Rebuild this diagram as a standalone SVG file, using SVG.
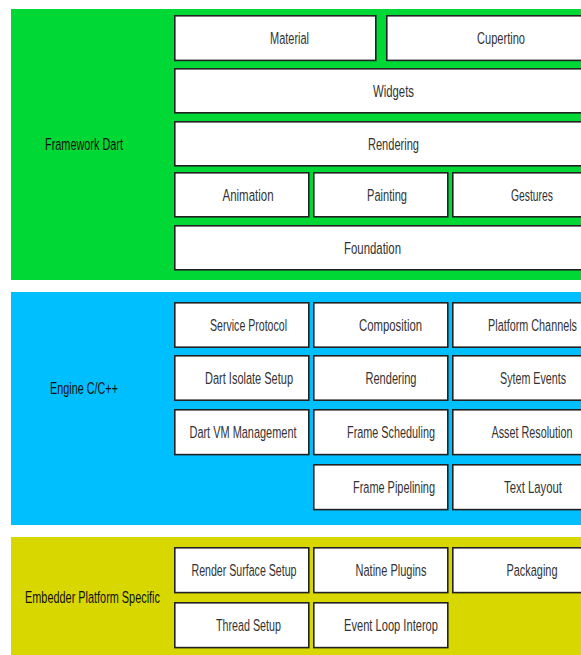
<svg xmlns="http://www.w3.org/2000/svg" width="581" height="655" viewBox="0 0 581 655">
  <style>
    .band-fw { fill: #00d836; }
    .band-en { fill: #00bfff; }
    .band-em { fill: #d8d800; }
    .box { fill: #ffffff; stroke: #222222; stroke-width: 1.6; }
    .t { font-family: "Liberation Sans", Arial, sans-serif; font-size: 17px; fill: #333333; text-anchor: middle; }
    .lbl { font-family: "Liberation Sans", Arial, sans-serif; font-size: 17px; fill: #111111; text-anchor: middle; }
  </style>
  <rect width="581" height="655" fill="#ffffff"/>

  <!-- Framework layer; labels use a condensed face (x scaled by 0.62) -->
  <g id="framework">
    <rect class="band-fw" x="11" y="9" width="580" height="271"/>
    <text class="lbl" transform="translate(84 150) scale(0.62 1)" textLength="125.8" lengthAdjust="spacingAndGlyphs">Framework Dart</text>
    <g id="material"><rect class="box" x="174.8" y="15.8" width="201" height="44.6"/><text class="t" transform="translate(289.5 44) scale(0.62 1)" textLength="62.9" lengthAdjust="spacingAndGlyphs">Material</text></g>
    <g id="cupertino"><rect class="box" x="386.8" y="15.8" width="228" height="44.6"/><text class="t" transform="translate(501 44) scale(0.62 1)" textLength="77.4" lengthAdjust="spacingAndGlyphs">Cupertino</text></g>
    <g id="widgets"><rect class="box" x="174.8" y="68.8" width="440" height="44"/><text class="t" transform="translate(393.5 96.8) scale(0.62 1)" textLength="66.1" lengthAdjust="spacingAndGlyphs">Widgets</text></g>
    <g id="fw-rendering"><rect class="box" x="174.8" y="121.8" width="440" height="44"/><text class="t" transform="translate(393.5 149.8) scale(0.62 1)" textLength="82.3" lengthAdjust="spacingAndGlyphs">Rendering</text></g>
    <g id="animation"><rect class="box" x="174.8" y="172.8" width="134" height="44"/><text class="t" transform="translate(248 200.8) scale(0.62 1)" textLength="82.3" lengthAdjust="spacingAndGlyphs">Animation</text></g>
    <g id="painting"><rect class="box" x="313.8" y="172.8" width="134" height="44"/><text class="t" transform="translate(387 200.8) scale(0.62 1)" textLength="64.5" lengthAdjust="spacingAndGlyphs">Painting</text></g>
    <g id="gestures"><rect class="box" x="452.8" y="172.8" width="162" height="44"/><text class="t" transform="translate(532 200.8) scale(0.62 1)" textLength="67.7" lengthAdjust="spacingAndGlyphs">Gestures</text></g>
    <g id="foundation"><rect class="box" x="174.8" y="225.8" width="440" height="44"/><text class="t" transform="translate(372.5 253.8) scale(0.62 1)" textLength="91.9" lengthAdjust="spacingAndGlyphs">Foundation</text></g>
  </g>

  <!-- Engine layer -->
  <g id="engine">
    <rect class="band-en" x="11" y="292" width="580" height="233"/>
    <text class="lbl" transform="translate(84 394) scale(0.62 1)" textLength="109.7" lengthAdjust="spacingAndGlyphs">Engine C/C++</text>
    <g id="service-protocol"><rect class="box" x="174.8" y="302.8" width="134" height="44.4"/><text class="t" transform="translate(248.5 330.8) scale(0.62 1)" textLength="124.2" lengthAdjust="spacingAndGlyphs">Service Protocol</text></g>
    <g id="composition"><rect class="box" x="313.8" y="302.8" width="134" height="44.4"/><text class="t" transform="translate(390.5 330.8) scale(0.62 1)" textLength="101.6" lengthAdjust="spacingAndGlyphs">Composition</text></g>
    <g id="platform-channels"><rect class="box" x="452.8" y="302.8" width="162" height="44.4"/><text class="t" transform="translate(532.5 330.8) scale(0.62 1)" textLength="143.5" lengthAdjust="spacingAndGlyphs">Platform Channels</text></g>
    <g id="dart-isolate-setup"><rect class="box" x="174.8" y="355.8" width="134" height="44.4"/><text class="t" transform="translate(249 383.8) scale(0.62 1)" textLength="141.9" lengthAdjust="spacingAndGlyphs">Dart Isolate Setup</text></g>
    <g id="en-rendering"><rect class="box" x="313.8" y="355.8" width="134" height="44.4"/><text class="t" transform="translate(391 383.8) scale(0.62 1)" textLength="82.3" lengthAdjust="spacingAndGlyphs">Rendering</text></g>
    <g id="system-events"><rect class="box" x="452.8" y="355.8" width="162" height="44.4"/><text class="t" transform="translate(533 383.8) scale(0.62 1)" textLength="106.5" lengthAdjust="spacingAndGlyphs">Sytem Events</text></g>
    <g id="dart-vm-management"><rect class="box" x="174.8" y="409.8" width="134" height="44.8"/><text class="t" transform="translate(243 438) scale(0.62 1)" textLength="172.6" lengthAdjust="spacingAndGlyphs">Dart VM Management</text></g>
    <g id="frame-scheduling"><rect class="box" x="313.8" y="409.8" width="134" height="44.8"/><text class="t" transform="translate(391 438) scale(0.62 1)" textLength="141.9" lengthAdjust="spacingAndGlyphs">Frame Scheduling</text></g>
    <g id="asset-resolution"><rect class="box" x="452.8" y="409.8" width="162" height="44.8"/><text class="t" transform="translate(532 438) scale(0.62 1)" textLength="130.6" lengthAdjust="spacingAndGlyphs">Asset Resolution</text></g>
    <g id="frame-pipelining"><rect class="box" x="313.8" y="464.8" width="134" height="44.8"/><text class="t" transform="translate(394 493) scale(0.62 1)" textLength="132.3" lengthAdjust="spacingAndGlyphs">Frame Pipelining</text></g>
    <g id="text-layout"><rect class="box" x="452.8" y="464.8" width="162" height="44.8"/><text class="t" transform="translate(533 493) scale(0.62 1)" textLength="93.5" lengthAdjust="spacingAndGlyphs">Text Layout</text></g>
  </g>

  <!-- Embedder layer -->
  <g id="embedder">
    <rect class="band-em" x="11" y="537" width="580" height="130"/>
    <text class="lbl" transform="translate(92.5 603) scale(0.62 1)" textLength="217.7" lengthAdjust="spacingAndGlyphs">Embedder Platform Specific</text>
    <g id="render-surface-setup"><rect class="box" x="174.8" y="547.8" width="134" height="44.8"/><text class="t" transform="translate(244 576) scale(0.62 1)" textLength="169.4" lengthAdjust="spacingAndGlyphs">Render Surface Setup</text></g>
    <g id="native-plugins"><rect class="box" x="313.8" y="547.8" width="134" height="44.8"/><text class="t" transform="translate(391 576) scale(0.62 1)" textLength="114.5" lengthAdjust="spacingAndGlyphs">Natine Plugins</text></g>
    <g id="packaging"><rect class="box" x="452.8" y="547.8" width="162" height="44.8"/><text class="t" transform="translate(532 576) scale(0.62 1)" textLength="82.3" lengthAdjust="spacingAndGlyphs">Packaging</text></g>
    <g id="thread-setup"><rect class="box" x="174.8" y="602.8" width="134" height="44.8"/><text class="t" transform="translate(248.5 631) scale(0.62 1)" textLength="104.8" lengthAdjust="spacingAndGlyphs">Thread Setup</text></g>
    <g id="event-loop-interop"><rect class="box" x="313.8" y="602.8" width="134" height="44.8"/><text class="t" transform="translate(391 631) scale(0.62 1)" textLength="151.6" lengthAdjust="spacingAndGlyphs">Event Loop Interop</text></g>
  </g>

  <!-- no connectors in this layer stack -->
  <g id="connectors"/>
</svg>
